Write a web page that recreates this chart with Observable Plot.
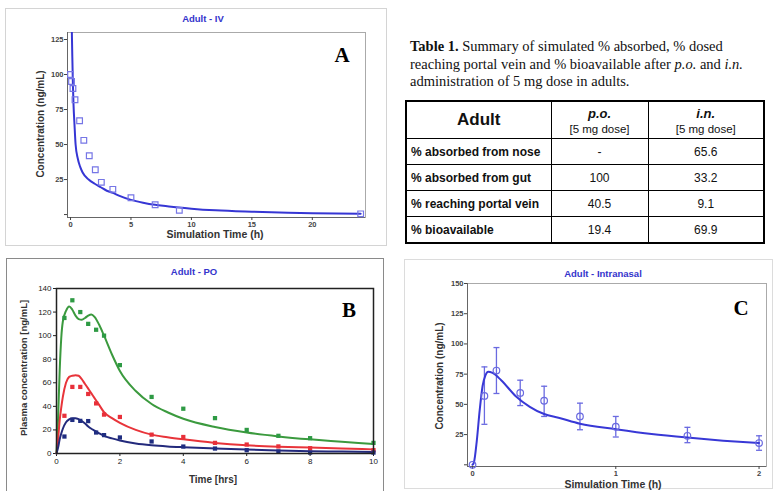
<!DOCTYPE html>
<html>
<head>
<meta charset="utf-8">
<script src="https://cdn.jsdelivr.net/npm/d3@7"></script>
<script src="https://cdn.jsdelivr.net/npm/@observablehq/plot@0.6"></script>
<style>
  html, body { margin: 0; padding: 0; background: #fff; overflow: hidden; }
  #page { position: relative; width: 778px; height: 491px; overflow: hidden; background: #fff; font-family: Arial, "Liberation Sans", sans-serif; }
  .panel { position: absolute; box-sizing: border-box; }
  .ptitle { position: absolute; transform: translateX(-50%); color: #3434cc; font: bold 9.5px Arial, "Liberation Sans", sans-serif; white-space: nowrap; }
  .xlab { position: absolute; transform: translateX(-50%); font: bold 10.5px Arial, "Liberation Sans", sans-serif; color: #333; white-space: nowrap; }
  .ylab { position: absolute; transform: translate(-50%, -50%) rotate(-90deg); font: bold 10px Arial, "Liberation Sans", sans-serif; color: #333; white-space: nowrap; }
  .letter { position: absolute; font: bold 21px "Liberation Serif", "Times New Roman", serif; color: #000; transform: translate(-50%, -50%); }
  .plotbox { position: absolute; }
  #caption { position: absolute; left: 410px; top: 38px; width: 368px; font: 14.5px "Liberation Serif", "Times New Roman", serif; line-height: 17.5px; color: #111; white-space: nowrap; }
  #tbl { position: absolute; left: 405px; top: 100px; border-collapse: collapse; table-layout: fixed; font-family: Arial, "Liberation Sans", sans-serif; color: #111; border: 2px solid #000; }
  #tbl td, #tbl th { border: 1.5px solid #000; padding: 0; }
  #tbl th { height: 36px; font-weight: bold; }
  #tbl td { height: 25px; font-size: 12px; text-align: center; }
  #tbl td.rl { text-align: left; font-weight: bold; padding-left: 4px; }
</style>
</head>
<body>
<div id="page"></div>
<script>
// ---------------- Panel A: Adult - IV ----------------
const ivObsTime = [0, 0.083, 0.2, 0.37, 0.75, 1.1, 1.55, 2.05, 2.55, 3.5, 5, 7, 9, 24];
const ivObsConc = [100, 95, 90, 82, 67, 53, 42, 32, 23, 18, 12, 7, 3, 0.5];
const ivSimTime = [0, 0.1, 0.15, 0.2, 0.25, 0.33, 0.42, 0.6, 0.8, 1, 1.5, 2, 2.5, 3, 3.5, 4, 5, 6, 7, 8, 9, 10, 12, 15, 18, 20, 24];
const ivSimConc = [200, 135, 112, 92, 78, 64, 50, 40, 34, 30, 25, 22, 19.5, 17, 15.5, 13.5, 10.5, 8.5, 7, 6, 5, 4.2, 3, 2, 1.3, 1, 0.6];
const ivXTicks = [0, 5, 10, 15, 20];
const ivYTicks = [0, 25, 50, 75, 100, 125];

// ---------------- Panel B: Adult - PO ----------------
const poObsTime = [0.25, 0.5, 0.75, 1, 1.25, 1.5, 2, 3, 4, 5, 6, 7, 8, 10];
const poObsGreen = [115, 130, 120, 110, 105, 100, 75, 48, 38, 30, 20, 15, 13, 9];
const poObsRed = [32, 56.5, 56.5, 50.5, 42.5, 33, 31, 16, 14, 9, 7.6, 6, 4.5, 2.8];
const poObsBlue = [14.4, 28.5, 27.7, 27.5, 17.8, 15.6, 13.6, 10.2, 5.9, 4.2, 2.8, 1.7, 0.8, 0.8];
const poSimTime = [0, 0.05, 0.1, 0.15, 0.2, 0.3, 0.4, 0.5, 0.6, 0.7, 0.8, 0.9, 1.0, 1.1, 1.2, 1.35, 1.5, 1.75, 2, 2.5, 3, 3.5, 4, 5, 6, 7, 8, 9, 10];
const poSimGreen = [0, 30, 70, 98, 112, 121, 124.8, 122, 117, 114, 113.5, 115, 117, 118, 116, 109, 100, 84, 70, 53, 42, 35, 29.5, 22.5, 17.8, 14.5, 12, 10, 8];
const poSimRed = [0, 12, 28, 39, 48, 60, 65, 66, 66.5, 66, 63, 59, 55, 51, 47, 41, 35, 30, 26, 20, 16, 13.8, 12, 9, 7, 5.8, 5, 4.2, 3.5];
const poSimBlue = [0, 5, 12, 17, 21, 26.5, 29, 30, 30, 29, 27.5, 25.5, 23, 21, 19.5, 17, 15, 12.8, 11, 8.5, 7, 6, 5.3, 4.2, 3.3, 2.6, 2, 1.6, 1.2];
const poXTicks = [0, 2, 4, 6, 8, 10];
const poYTicks = [0, 20, 40, 60, 80, 100, 120, 140];

// ---------------- Panel C: Adult - Intranasal ----------------
const inObsTime = [0, 0.083, 0.167, 0.333, 0.5, 0.75, 1, 1.5, 2];
const inObsConc = [0, 57, 78, 59.5, 53, 40, 31.5, 24, 18];
const inObsLow  = [null, 33.5, 59, 49, 40, 29, 23, 18.3, 12];
const inObsHigh = [null, 81, 97, 70, 65, 51, 40, 31, 24];
const inSimTime = [0, 0.01, 0.03, 0.05, 0.07, 0.09, 0.11, 0.14, 0.2, 0.3, 0.4, 0.5, 0.6, 0.75, 1, 1.25, 1.5, 1.75, 2];
const inSimConc = [0, 2, 20, 45, 65, 74, 77, 76, 70, 57, 48, 42, 39, 34, 29.5, 25.5, 22.5, 20, 18];
const inXTicks = [0, 1, 2];
const inYTicks = [0, 25, 50, 75, 100, 125, 150];

// ---------------- Table ----------------
const tableRowLabels = ["% absorbed from nose", "% absorbed from gut", "% reaching portal vein", "% bioavailable"];
const tablePO = ["-", "100", "40.5", "19.4"];
const tableIN = ["65.6", "33.2", "9.1", "69.9"];

// ============================================================
const page = document.getElementById("page");
function add(html) { page.insertAdjacentHTML("beforeend", html); }
function addPlot(svg, left, top) {
  const d = document.createElement("div");
  d.className = "plotbox";
  d.style.left = left + "px"; d.style.top = top + "px";
  d.appendChild(svg);
  page.appendChild(d);
}

// panel borders
add('<div class="panel" style="left:5px;top:8px;width:382px;height:238px;border:1px solid #d4d4d4"></div>');
add('<div class="panel" style="left:6px;top:258px;width:378px;height:240px;border:1.5px solid #8a8a8a"></div>');
add('<div class="panel" style="left:404px;top:259px;width:369px;height:230px;border:1px solid #dcdcdc"></div>');

const zip = (a, b) => a.map((v, i) => ({t: v, c: b[i]}));
const ivObs = zip(ivObsTime, ivObsConc);
const ivSim = zip(ivSimTime, ivSimConc);

const ivX = [-0.25, 24.4], ivY = [-2.1, 130];
const plotA = Plot.plot({
  width: 390, height: 250,
  marginLeft: 67, marginRight: 25, marginTop: 32, marginBottom: 33,
  x: {domain: ivX}, y: {domain: ivY},
  style: {background: "transparent", fontFamily: "Arial, 'Liberation Sans', sans-serif", fontSize: "7.5px", fontWeight: "bold", color: "#444"},
  marks: [
    Plot.frame({stroke: "#aaa"}),
    Plot.ruleX([ivX[0]], {stroke: "#666"}),
    Plot.ruleY([ivY[0]], {stroke: "#666"}),
    Plot.axisX({ticks: ivXTicks, tickSize: 3, tickPadding: 1, label: null, tickFormat: d => String(d)}),
    Plot.axisY({ticks: ivYTicks, tickSize: 3, tickPadding: 1, label: null, tickFormat: d => d === 0 ? "" : String(d)}),
    Plot.line(ivSim, {x: "t", y: "c", stroke: "#3636d4", strokeWidth: 2, curve: "monotone-x", clip: true}),
    Plot.dot(ivObs, {x: "t", y: "c", symbol: "square", r: 3.2, stroke: "#7676e6", fill: "none", strokeWidth: 1.2})
  ]
});
addPlot(plotA, 0, 0);

// Panel B
const poObs = poObsTime.flatMap((t, i) => [
  {t, c: poObsGreen[i], s: "g"}, {t, c: poObsRed[i], s: "r"}, {t, c: poObsBlue[i], s: "b"}
]);
const poSim = poSimTime.flatMap((t, i) => [
  {t, c: poSimGreen[i], s: "g"}, {t, c: poSimRed[i], s: "r"}, {t, c: poSimBlue[i], s: "b"}
]);
const lineCol = {g: "#3b9a3e", r: "#e8343a", b: "#232a7c"};
const dotCol = {g: "#2e9a44", r: "#e8303a", b: "#1f2d80"};
const plotB = Plot.plot({
  width: 390, height: 236,
  marginLeft: 56, marginRight: 17, marginTop: 33, marginBottom: 38,
  x: {domain: [0, 10]}, y: {domain: [0, 140]},
  style: {background: "transparent", fontFamily: "Arial, 'Liberation Sans', sans-serif", fontSize: "8px", color: "#222"},
  marks: [
    Plot.axisX({ticks: poXTicks, tickSize: 3, tickPadding: 2, label: null, tickFormat: d => String(d)}),
    Plot.axisY({ticks: poYTicks, tickSize: 3, tickPadding: 2, label: null, tickFormat: d => String(d)}),
    Plot.line(poSim, {x: "t", y: "c", z: "s", stroke: d => lineCol[d.s], strokeWidth: 2, curve: "monotone-x"}),
    Plot.dot(poObs, {x: "t", y: "c", symbol: "square", r: 2.4, fill: d => dotCol[d.s], stroke: "none"}),
    Plot.frame({stroke: "#222", strokeWidth: 1.5})
  ]
});
addPlot(plotB, 0, 255);

// Panel C
const inObs = inObsTime.map((t, i) => ({t, c: inObsConc[i], lo: inObsLow[i], hi: inObsHigh[i]}));
const inErr = inObs.filter(d => d.lo != null);
const inSim = zip(inSimTime, inSimConc);
const capSymbol = {draw(ctx, size) { const w = 3; ctx.moveTo(-w, 0); ctx.lineTo(w, 0); }};
const inX = [-0.035, 2.052], inY = [-1.4, 150];
const plotC = Plot.plot({
  width: 378, height: 236,
  marginLeft: 67, marginRight: 12, marginTop: 28, marginBottom: 25,
  x: {domain: inX}, y: {domain: inY},
  style: {background: "transparent", fontFamily: "Arial, 'Liberation Sans', sans-serif", fontSize: "7.5px", fontWeight: "bold", color: "#444"},
  marks: [
    Plot.frame({stroke: "#aaa"}),
    Plot.ruleX([inX[0]], {stroke: "#666"}),
    Plot.ruleY([inY[0]], {stroke: "#666"}),
    Plot.axisX({ticks: inXTicks, tickSize: 3, tickPadding: 1, label: null, tickFormat: d => String(d)}),
    Plot.axisY({ticks: inYTicks, tickSize: 3, tickPadding: 1, label: null, tickFormat: d => d === 0 ? "" : String(d)}),
    Plot.ruleX(inErr, {x: "t", y1: "lo", y2: "hi", stroke: "#6a6ae0", strokeWidth: 1.3}),
    Plot.dot(inErr, {x: "t", y: "lo", symbol: capSymbol, stroke: "#6a6ae0", strokeWidth: 1.3}),
    Plot.dot(inErr, {x: "t", y: "hi", symbol: capSymbol, stroke: "#6a6ae0", strokeWidth: 1.3}),
    Plot.line(inSim, {x: "t", y: "c", stroke: "#3838d6", strokeWidth: 2, curve: "monotone-x"}),
    Plot.dot(inObs, {x: "t", y: "c", symbol: "circle", r: 3.3, stroke: "#6a6ae0", fill: "none", strokeWidth: 1.2})
  ]
});
addPlot(plotC, 400, 255);

// Titles, axis labels, letters
add('<div class="ptitle" style="left:203px;top:13px">Adult - IV</div>');
add('<div class="ptitle" style="left:194px;top:266px">Adult - PO</div>');
add('<div class="ptitle" style="left:603px;top:268px">Adult - Intranasal</div>');
add('<div class="ylab" style="left:40px;top:124px">Concentration (ng/mL)</div>');
add('<div class="xlab" style="left:215px;top:228px">Simulation Time (h)</div>');
add('<div class="ylab" style="left:23px;top:368px;font-size:9.5px">Plasma concentration [ng/mL]</div>');
add('<div class="xlab" style="left:213px;top:474px;font-size:10px">Time [hrs]</div>');
add('<div class="ylab" style="left:439px;top:376px">Concentration (ng/mL)</div>');
add('<div class="xlab" style="left:613px;top:478px">Simulation Time (h)</div>');
add('<div class="letter" style="left:342px;top:55px">A</div>');
add('<div class="letter" style="left:349px;top:310px">B</div>');
add('<div class="letter" style="left:741px;top:308px">C</div>');

// Caption + table
add('<div id="caption"><b>Table 1.</b> Summary of simulated % absorbed, % dosed<br>reaching portal vein and % bioavailable after <i>p.o.</i> and <i>i.n.</i><br>administration of 5 mg dose in adults.</div>');
let rows = tableRowLabels.map((lab, i) =>
  `<tr><td class="rl">${lab}</td><td>${tablePO[i]}</td><td>${tableIN[i]}</td></tr>`).join("");
add(`<table id="tbl">
<colgroup><col style="width:145px"><col style="width:97px"><col style="width:116px"></colgroup>
<tr><th style="font-size:17px">Adult</th>
<th><div style="font-size:13px;font-style:italic">p.o.</div><div style="font-size:11.5px;font-weight:normal;margin-top:2px">[5 mg dose]</div></th>
<th><div style="font-size:13px;font-style:italic">i.n.</div><div style="font-size:11.5px;font-weight:normal;margin-top:2px">[5 mg dose]</div></th></tr>
${rows}
</table>`);
</script>
</body>
</html>
